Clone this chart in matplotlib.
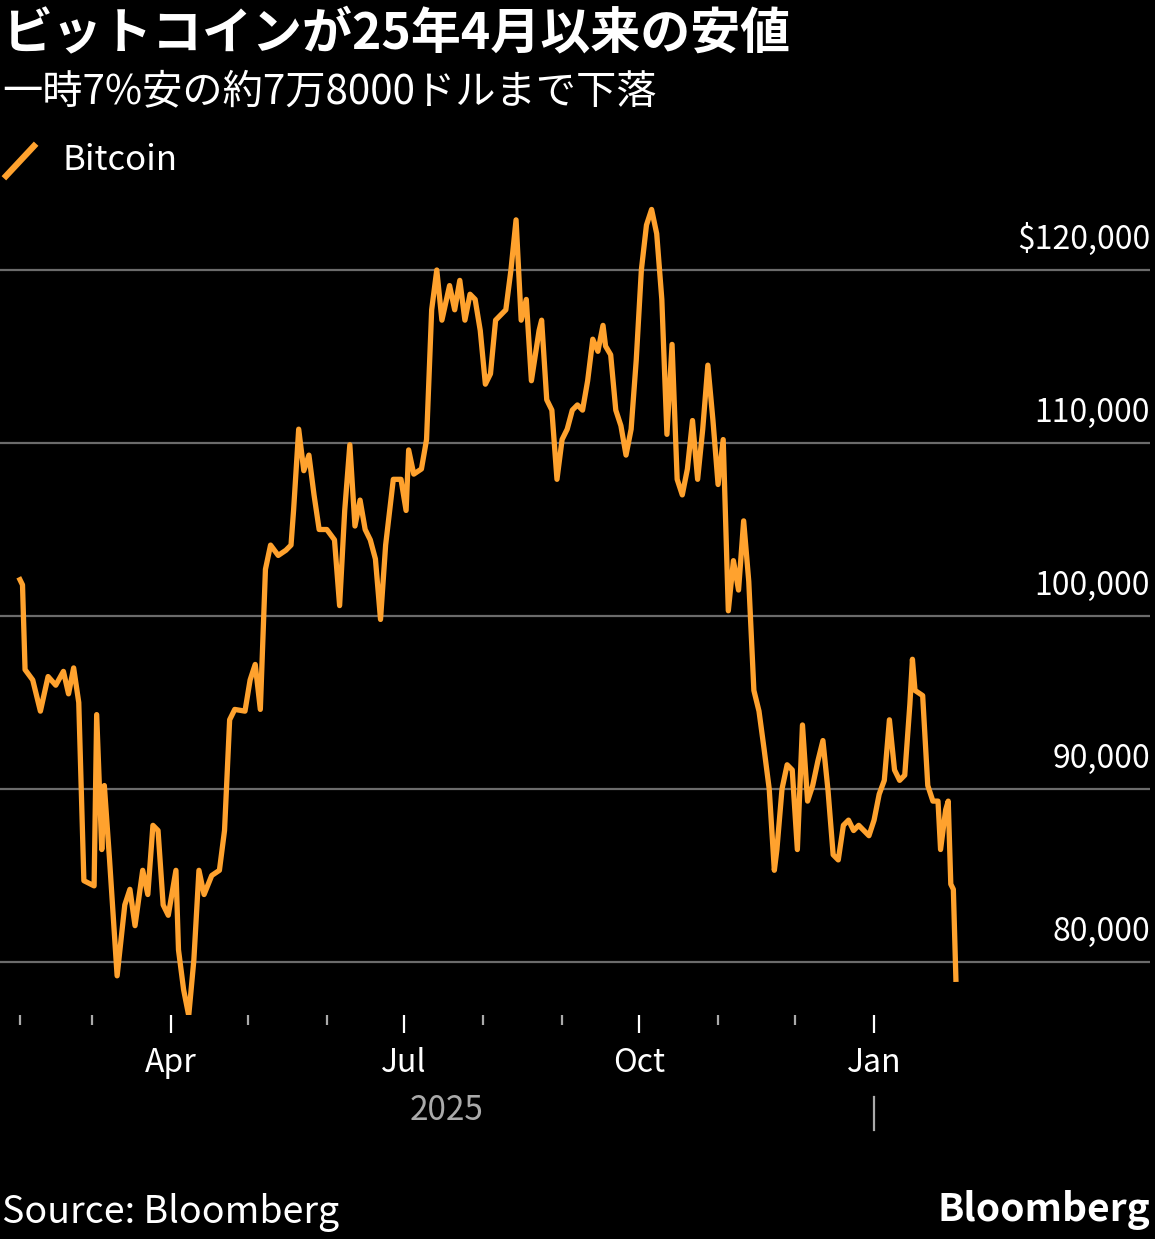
import matplotlib
matplotlib.use("Agg")
import matplotlib.pyplot as plt
import pandas as pd
import numpy as np

plt.rcParams['font.family'] = ['Noto Sans CJK JP', 'DejaVu Sans']

title = "ビットコインが25年4月以来の安値"
subtitle = "一時7%安の約7万8000ドルまで下落"
series_name = "Bitcoin"
start_date = "2025-02-01"
day_offsets = [0,1,2,5,8,11,14,17,19,21,23,25,29,30,32,33,35,38,41,43,45,48,50,52,54,56,58,61,62,64,66,68,70,72,75,78,80,82,84,88,90,92,94,96,98,101,104,106,107,109,111,113,115,117,120,123,125,127,129,131,133,135,137,139,141,143,146,149,151,152,154,157,159,161,163,165,168,170,172,174,176,178,180,182,184,186,188,190,192,194,196,198,200,203,204,206,208,210,212,214,216,218,220,222,224,226,228,229,231,233,235,237,239,241,243,245,247,249,251,253,255,257,259,261,263,265,267,269,271,273,275,277,279,281,283,285,287,289,291,293,295,296,298,300,302,304,306,308,310,312,314,316,318,320,322,324,326,328,330,332,334,336,338,340,342,344,346,348,349,350,353,355,357,359,360,362,363,364,365,366]
prices = [102100,101800,96900,96300,94500,96500,96000,96800,95500,97000,95000,84700,84400,94300,86500,90200,86000,79200,83300,84200,82100,85300,83900,87900,87600,83300,82700,85300,80700,78400,76900,80100,85300,83900,85000,85300,87600,94000,94600,94500,96300,97200,94600,102700,104100,103500,103800,104100,106100,110800,108400,109300,107000,105000,105000,104400,100600,106100,109900,105200,106700,105000,104400,103300,99800,104100,107900,107900,106100,109600,108200,108500,110200,117700,120000,117100,119100,117700,119400,117100,118600,118300,116500,113400,114000,117100,117400,117700,120000,122900,117100,118300,113600,116500,117100,112500,111900,107900,110200,110800,111900,112200,111900,113600,116000,115300,116800,115600,115100,111900,111000,109300,110800,114800,120000,122600,123500,122100,118300,110500,115700,107900,107000,108500,111300,107900,110800,114500,111300,107600,110200,100300,103200,101500,105500,102000,95700,94500,92300,90000,85300,86500,90000,91400,91100,86500,93700,89300,90200,91600,92800,89900,86200,85900,87900,88200,87600,87900,87600,87300,88200,89700,90500,94000,91100,90500,90800,94900,97500,95700,95400,90200,89300,89300,86500,88800,89300,84500,84200,79000]
y_ticks = [80000, 90000, 100000, 110000, 120000]
y_labels = ["80,000", "90,000", "100,000", "110,000", "$120,000"]
major_months = ["2025-04-01", "2025-07-01", "2025-10-01", "2026-01-01"]
major_labels = ["Apr", "Jul", "Oct", "Jan"]
minor_months = ["2025-02-01", "2025-03-01", "2025-05-01", "2025-06-01", "2025-08-01", "2025-09-01", "2025-11-01", "2025-12-01"]

dates = pd.Timestamp(start_date) + pd.to_timedelta(day_offsets, unit="D")
orange = "#FFA22E"

W, H = 1155, 1239
fig = plt.figure(figsize=(W/100, H/100), dpi=100, facecolor="black")
ax = fig.add_axes([0, 1 - 1015/H, 1150/W, (1015-192)/H], facecolor="black")
t0 = pd.Timestamp(start_date)
ax.set_xlim(t0 - pd.Timedelta(days=7.8), t0 + pd.Timedelta(days=441.9))
ax.set_ylim(76936, 124509)
for v in y_ticks:
    ax.axhline(v, color="#6b6b6b", lw=1.6, zorder=1)
for v, lab in zip(y_ticks, y_labels):
    ax.text(1.0, v + 800, lab, transform=ax.get_yaxis_transform(), ha="right", va="bottom",
            color="white", fontsize=23)
ax.plot(dates, prices, color=orange, lw=3.8, zorder=3, solid_joinstyle="round")
for s in ax.spines.values():
    s.set_visible(False)
ax.set_yticks([])
ax.set_xticks(pd.to_datetime(major_months))
ax.set_xticklabels(major_labels)
ax.set_xticks(pd.to_datetime(minor_months), minor=True)
ax.tick_params(axis="x", which="major", length=13, width=1.6, color="white", labelcolor="white",
               labelsize=23, pad=10)
ax.tick_params(axis="x", which="minor", length=7, width=1.6, color="#aaaaaa")

fig.text(447/W, 1 - 1110/H, "2025", color="#aaaaaa", fontsize=24, ha="center", va="center")
fig.add_artist(plt.Line2D([874/W, 874/W], [1 - 1097/H, 1 - 1130/H], color="#aaaaaa", lw=1.6))

fig.text(2/W, 1 - 35/H, title, color="white", fontsize=36, fontweight="bold", ha="left", va="center")
fig.text(2/W, 1 - 92/H, subtitle, color="white", fontsize=29, ha="left", va="center")
fig.add_artist(plt.Line2D([6/W, 34/W], [1 - 176/H, 1 - 146/H], color=orange, lw=4.5))
fig.text(62/W, 1 - 160/H, series_name, color="white", fontsize=25, ha="left", va="center")
fig.text(2/W, 1 - 1213/H, "Source: Bloomberg", color="white", fontsize=27, ha="left", va="center")
fig.text(1150/W, 1 - 1210/H, "Bloomberg", color="white", fontsize=28, fontweight="bold", ha="right", va="center")

fig.savefig("out.png", dpi=100, facecolor="black")
